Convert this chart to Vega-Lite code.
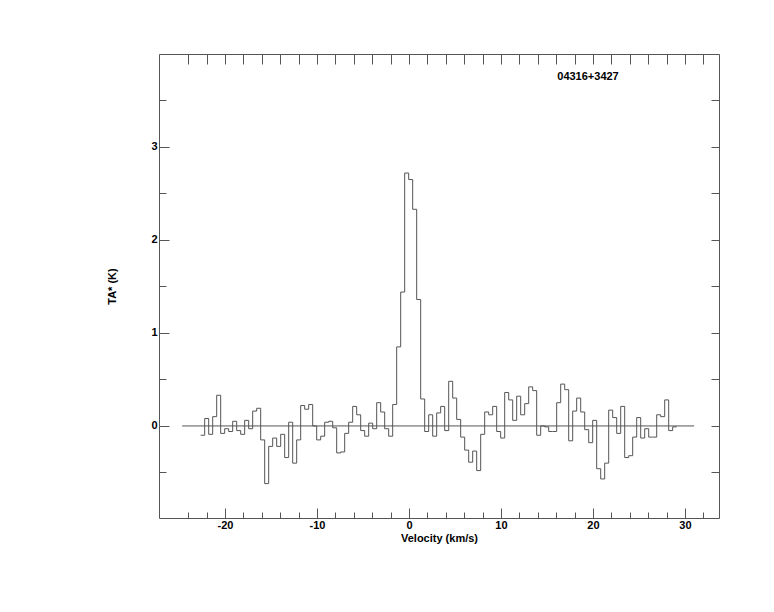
{
  "$schema": "https://vega.github.io/schema/vega-lite/v6.json",
  "width": 560,
  "height": 464,
  "autosize": {"type": "none"},
  "padding": {"left": 159, "top": 54, "right": 55, "bottom": 94},
  "background": "white",
  "config": {
    "view": {"stroke": "#555555", "strokeWidth": 1},
    "axis": {
      "domain": false,
      "grid": false,
      "tickColor": "#555555",
      "labelFont": "Liberation Sans",
      "labelFontWeight": "bold",
      "labelFontSize": 11,
      "labelColor": "black",
      "titleFont": "Liberation Sans",
      "titleFontWeight": "bold",
      "titleFontSize": 11,
      "titleColor": "black"
    }
  },
  "datasets": {
    "spec": [
      {"v": -22.640, "ta": -0.10}, {"v": -22.205, "ta": 0.08}, {"v": -21.770, "ta": -0.09}, {"v": -21.336, "ta": 0.10},
      {"v": -20.901, "ta": 0.33}, {"v": -20.466, "ta": -0.08}, {"v": -20.031, "ta": -0.03}, {"v": -19.596, "ta": -0.06},
      {"v": -19.162, "ta": 0.05}, {"v": -18.727, "ta": -0.05}, {"v": -18.292, "ta": -0.09}, {"v": -17.857, "ta": 0.06},
      {"v": -17.422, "ta": -0.03}, {"v": -16.988, "ta": 0.16}, {"v": -16.553, "ta": 0.19}, {"v": -16.118, "ta": -0.15},
      {"v": -15.683, "ta": -0.62}, {"v": -15.248, "ta": -0.22}, {"v": -14.814, "ta": -0.13}, {"v": -14.379, "ta": -0.22},
      {"v": -13.944, "ta": -0.09}, {"v": -13.509, "ta": -0.34}, {"v": -13.074, "ta": 0.04}, {"v": -12.640, "ta": -0.40},
      {"v": -12.205, "ta": -0.15}, {"v": -11.770, "ta": 0.22}, {"v": -11.335, "ta": 0.18}, {"v": -10.900, "ta": 0.23},
      {"v": -10.466, "ta": 0.00}, {"v": -10.031, "ta": -0.15}, {"v": -9.596, "ta": -0.11}, {"v": -9.161, "ta": 0.04},
      {"v": -8.726, "ta": 0.05}, {"v": -8.292, "ta": -0.02}, {"v": -7.857, "ta": -0.29}, {"v": -7.422, "ta": -0.28},
      {"v": -6.987, "ta": -0.08}, {"v": -6.552, "ta": 0.04}, {"v": -6.118, "ta": 0.21}, {"v": -5.683, "ta": 0.12},
      {"v": -5.248, "ta": -0.05}, {"v": -4.813, "ta": -0.11}, {"v": -4.378, "ta": 0.03}, {"v": -3.944, "ta": -0.03},
      {"v": -3.509, "ta": 0.25}, {"v": -3.074, "ta": 0.15}, {"v": -2.639, "ta": -0.03}, {"v": -2.204, "ta": -0.11},
      {"v": -1.770, "ta": 0.23}, {"v": -1.335, "ta": 0.85}, {"v": -0.900, "ta": 1.44}, {"v": -0.465, "ta": 2.72},
      {"v": -0.030, "ta": 2.65}, {"v": 0.404, "ta": 2.33}, {"v": 0.839, "ta": 1.36}, {"v": 1.274, "ta": 0.29},
      {"v": 1.709, "ta": -0.06}, {"v": 2.144, "ta": 0.12}, {"v": 2.578, "ta": -0.11}, {"v": 3.013, "ta": 0.14},
      {"v": 3.448, "ta": 0.21}, {"v": 3.883, "ta": -0.05}, {"v": 4.318, "ta": 0.48}, {"v": 4.752, "ta": 0.30},
      {"v": 5.187, "ta": 0.07}, {"v": 5.622, "ta": -0.12}, {"v": 6.057, "ta": -0.26}, {"v": 6.492, "ta": -0.39},
      {"v": 6.926, "ta": -0.27}, {"v": 7.361, "ta": -0.48}, {"v": 7.796, "ta": -0.09}, {"v": 8.231, "ta": 0.15},
      {"v": 8.666, "ta": 0.12}, {"v": 9.100, "ta": 0.21}, {"v": 9.535, "ta": -0.06}, {"v": 9.970, "ta": -0.13},
      {"v": 10.405, "ta": 0.36}, {"v": 10.840, "ta": 0.28}, {"v": 11.274, "ta": 0.06}, {"v": 11.709, "ta": 0.32},
      {"v": 12.144, "ta": 0.12}, {"v": 12.579, "ta": 0.24}, {"v": 13.014, "ta": 0.42}, {"v": 13.448, "ta": 0.38},
      {"v": 13.883, "ta": -0.10}, {"v": 14.318, "ta": 0.00}, {"v": 14.753, "ta": -0.01}, {"v": 15.188, "ta": -0.06},
      {"v": 15.622, "ta": -0.06}, {"v": 16.057, "ta": 0.25}, {"v": 16.492, "ta": 0.45}, {"v": 16.927, "ta": 0.39},
      {"v": 17.362, "ta": -0.16}, {"v": 17.796, "ta": 0.16}, {"v": 18.231, "ta": 0.30}, {"v": 18.666, "ta": 0.15},
      {"v": 19.101, "ta": -0.04}, {"v": 19.536, "ta": -0.18}, {"v": 19.970, "ta": 0.06}, {"v": 20.405, "ta": -0.46},
      {"v": 20.840, "ta": -0.57}, {"v": 21.275, "ta": -0.40}, {"v": 21.710, "ta": 0.17}, {"v": 22.144, "ta": 0.09},
      {"v": 22.579, "ta": -0.08}, {"v": 23.014, "ta": 0.21}, {"v": 23.449, "ta": -0.34}, {"v": 23.884, "ta": -0.32},
      {"v": 24.318, "ta": -0.12}, {"v": 24.753, "ta": 0.09}, {"v": 25.188, "ta": -0.13}, {"v": 25.623, "ta": -0.03},
      {"v": 26.058, "ta": -0.12}, {"v": 26.492, "ta": -0.12}, {"v": 26.927, "ta": 0.12}, {"v": 27.362, "ta": 0.10},
      {"v": 27.797, "ta": 0.28}, {"v": 28.232, "ta": -0.05}, {"v": 28.666, "ta": -0.01}, {"v": 29.101, "ta": -0.01}
    ],
    "base": [{"v": -24.65, "ta": 0}, {"v": 31.0, "ta": 0}],
    "lab": [{"v": 19.46, "ta": 3.75, "name": "04316+3427"}]
  },
  "layer": [
    {
      "data": {"name": "spec"},
      "mark": {"type": "line", "interpolate": "step-after", "color": "#555555", "strokeWidth": 1},
      "encoding": {
        "x": {
          "field": "v", "type": "quantitative",
          "scale": {"domain": [-27.17, 33.7], "nice": false, "zero": false},
          "axis": {"orient": "bottom", "values": [-20, -10, 0, 10, 20, 30], "tickSize": -10, "labelPadding": 11, "labelExpr": "replace(datum.label, '\u2212', '-')", "title": "Velocity (km/s)", "titlePadding": 2, "labelFlush": false}
        },
        "y": {
          "field": "ta", "type": "quantitative",
          "scale": {"domain": [-0.99, 4.0], "nice": false, "zero": false},
          "axis": {"orient": "left", "values": [0, 1, 2, 3], "tickSize": -10, "labelPadding": 12, "title": "TA* (K)", "titlePadding": 33, "labelFlush": false}
        }
      }
    },
    {
      "data": {"name": "base"},
      "mark": {"type": "line", "color": "#555555", "strokeWidth": 1},
      "encoding": {
        "x": {
          "field": "v", "type": "quantitative",
          "axis": {"orient": "bottom", "values": [-24, -22, -18, -16, -14, -12, -8, -6, -4, -2, 2, 4, 6, 8, 12, 14, 16, 18, 22, 24, 26, 28, 32], "tickSize": -6, "labels": false, "title": null}
        },
        "y": {
          "field": "ta", "type": "quantitative",
          "axis": {"orient": "left", "values": [-0.5, 0.5, 1.5, 2.5, 3.5], "tickSize": -7, "labels": false, "title": null}
        }
      }
    },
    {
      "data": {"name": "lab"},
      "mark": {"type": "text", "font": "Liberation Sans", "fontWeight": "bold", "fontSize": 11, "color": "black", "align": "center", "baseline": "middle"},
      "encoding": {
        "x": {
          "field": "v", "type": "quantitative",
          "axis": {"orient": "top", "values": [-24, -22, -20, -18, -16, -14, -12, -10, -8, -6, -4, -2, 0, 2, 4, 6, 8, 10, 12, 14, 16, 18, 20, 22, 24, 26, 28, 30, 32], "tickSize": -10, "labels": false, "title": null}
        },
        "y": {
          "field": "ta", "type": "quantitative",
          "axis": {"orient": "right", "values": [-0.5, 0, 0.5, 1, 1.5, 2, 2.5, 3, 3.5], "tickSize": -8, "labels": false, "title": null}
        },
        "text": {"field": "name"}
      }
    }
  ],
  "resolve": {"axis": {"x": "independent", "y": "independent"}}
}
